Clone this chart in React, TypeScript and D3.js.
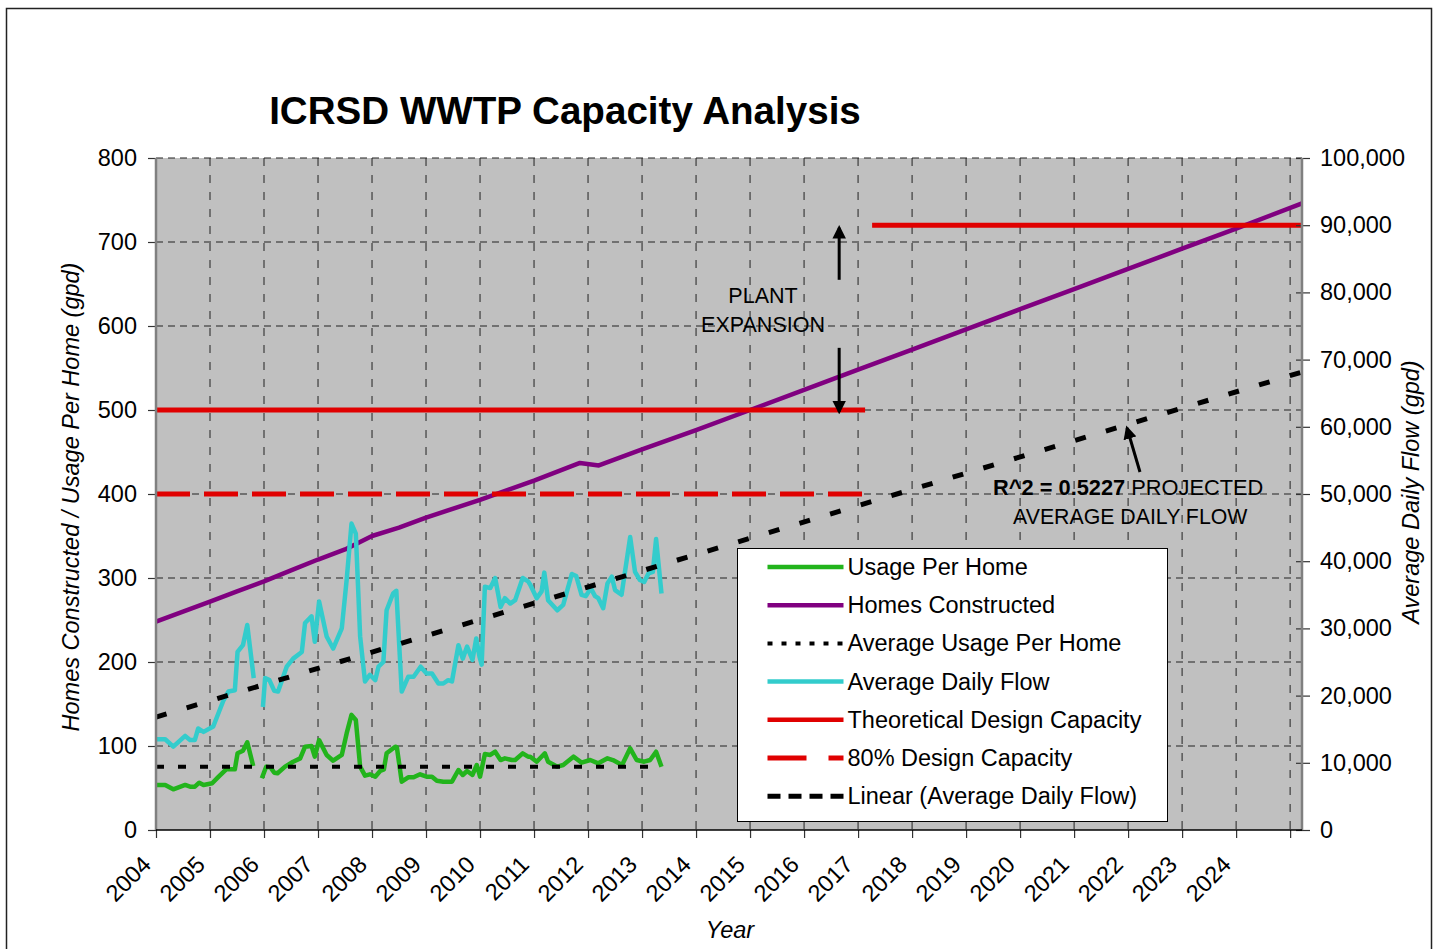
import React, { useEffect, useRef } from "react";
import * as d3 from "d3";

type Pt = [number, number | null];

// ---- axis ticks ----
const yearTicks = [2004, 2005, 2006, 2007, 2008, 2009, 2010, 2011, 2012, 2013, 2014, 2015, 2016, 2017, 2018, 2019, 2020, 2021, 2022, 2023, 2024, 2025];
const yearLabels = ["2004", "2005", "2006", "2007", "2008", "2009", "2010", "2011", "2012", "2013", "2014", "2015", "2016", "2017", "2018", "2019", "2020", "2021", "2022", "2023", "2024", ""];
const leftTicks = [0, 100, 200, 300, 400, 500, 600, 700, 800];
const rightTicks = [0, 10000, 20000, 30000, 40000, 50000, 60000, 70000, 80000, 90000, 100000];

// ---- series (year, value) ----
// Average Daily Flow (gpd, right axis)
const dailyFlow: Pt[] = [
  [2004.01, 13500], [2004.17, 13500], [2004.32, 12400], [2004.54, 14000], [2004.63, 13400],
  [2004.72, 13400], [2004.78, 15100], [2004.88, 14600], [2005.06, 15400], [2005.25, 19300],
  [2005.34, 20600], [2005.46, 20800], [2005.51, 26500], [2005.61, 27500], [2005.69, 30500],
  [2005.81, 22600], [2005.9, null], [2005.98, 18300], [2006.02, 22600], [2006.1, 22300],
  [2006.19, 20700], [2006.26, 20600], [2006.42, 24300], [2006.54, 25500], [2006.7, 26500],
  [2006.76, 30800], [2006.88, 31800], [2006.94, 28000], [2007.02, 34000], [2007.16, 28800],
  [2007.28, 27000], [2007.44, 30000], [2007.53, 37200], [2007.62, 45600], [2007.7, 44100],
  [2007.78, 28800], [2007.87, 22100], [2007.96, 23100], [2008.06, 22300], [2008.12, 24300],
  [2008.21, 25000], [2008.27, 32700], [2008.39, 35200], [2008.45, 35600], [2008.55, 20600],
  [2008.67, 22800], [2008.77, 22800], [2008.9, 24300], [2009.01, 23300], [2009.11, 23300],
  [2009.23, 21800], [2009.32, 21800], [2009.41, 22300], [2009.48, 22100], [2009.6, 27500],
  [2009.68, 25500], [2009.76, 27300], [2009.86, 25300], [2009.93, 28500], [2009.99, 25800],
  [2010.03, 24600], [2010.09, 36200], [2010.19, 36000], [2010.28, 37500], [2010.38, 33200],
  [2010.46, 34500], [2010.56, 33700], [2010.65, 34200], [2010.79, 37500], [2010.89, 37000],
  [2010.93, 36500], [2011.05, 34500], [2011.14, 35500], [2011.19, 38300], [2011.26, 34200],
  [2011.43, 32700], [2011.54, 33500], [2011.7, 38100], [2011.78, 37800], [2011.88, 35000],
  [2011.96, 34800], [2012.05, 36000], [2012.13, 34800], [2012.19, 34500], [2012.28, 33000],
  [2012.36, 36700], [2012.44, 37700], [2012.5, 35700], [2012.62, 35000], [2012.78, 43600],
  [2012.87, 38400], [2012.96, 37200], [2013.04, 36900], [2013.12, 38200], [2013.2, 38400],
  [2013.26, 43300], [2013.36, 35200],
];

// Usage Per Home (gpd, left axis)
const usagePerHome: Pt[] = [
  [2004.01, 53.6], [2004.17, 53.6], [2004.32, 48.4], [2004.54, 53.6], [2004.63, 51.6],
  [2004.72, 51.6], [2004.8, 56.3], [2004.88, 53.6], [2005.04, 55.6], [2005.16, 63.5],
  [2005.3, 72.2], [2005.46, 72.2], [2005.51, 91.3], [2005.61, 94.4], [2005.69, 104.4],
  [2005.8, 76.2], [2005.9, null], [2005.96, 61.5], [2006.04, 75.4], [2006.12, 74.6],
  [2006.19, 68.2], [2006.25, 67.5], [2006.39, 75.4], [2006.54, 81.3], [2006.67, 85.3],
  [2006.76, 99.2], [2006.88, 100], [2006.94, 87.3], [2007.02, 107], [2007.16, 89.3],
  [2007.28, 82.5], [2007.44, 89.3], [2007.53, 115], [2007.62, 137], [2007.7, 131],
  [2007.78, 75.4], [2007.87, 64.7], [2007.96, 66.3], [2008.06, 63.5], [2008.15, 70.2],
  [2008.22, 72.2], [2008.27, 91.3], [2008.43, 99.2], [2008.46, 98.4], [2008.55, 57.5],
  [2008.67, 62.7], [2008.77, 62.7], [2008.89, 66.3], [2009.01, 63.5], [2009.11, 63.5],
  [2009.2, 58.7], [2009.32, 57.5], [2009.48, 57.5], [2009.6, 71.4], [2009.68, 65.5],
  [2009.76, 70.2], [2009.86, 65.5], [2009.94, 77.4], [2010.0, 63.5], [2010.09, 90.5],
  [2010.19, 89.3], [2010.28, 93.2], [2010.38, 83.3], [2010.46, 85.3], [2010.59, 83.3],
  [2010.65, 83.3], [2010.79, 91.3], [2010.89, 87.3], [2010.93, 87.3], [2011.05, 81.3],
  [2011.2, 91.3], [2011.26, 81.3], [2011.43, 75.4], [2011.54, 77.4], [2011.73, 87.3],
  [2011.88, 80.2], [2012.04, 83.3], [2012.19, 79.4], [2012.36, 85.3], [2012.46, 83.3],
  [2012.63, 77.4], [2012.78, 97.2], [2012.9, 83.3], [2013.04, 81.3], [2013.15, 83.3],
  [2013.26, 93.2], [2013.36, 75.4],
];

// Homes Constructed (left axis)
const homesConstructed: Pt[] = [
  [2004, 248], [2004.5, 260], [2005, 272], [2005.5, 284], [2006, 296], [2006.5, 309],
  [2007, 322], [2007.5, 334], [2008, 350], [2008.5, 360], [2009, 372], [2010, 393],
  [2011, 416], [2011.85, 437], [2012.2, 434], [2013, 453], [2014, 476], [2015, 500],
  [2016, 524], [2017, 548], [2018, 572], [2019, 596], [2020, 620], [2021, 644],
  [2022, 668], [2023, 692], [2024, 716], [2025.22, 746],
];

// Average Usage Per Home (left axis)
const avgUsagePerHome: Pt[] = [[2004, 75.4], [2013.36, 75.4]];

// Design capacities (gpd, right axis)
const designCapacity: Pt[] = [[2004, 62500], [2017.13, 62500], [2017.2, null], [2017.26, 90000], [2025.22, 90000]];
const design80: Pt[] = [[2004, 50000], [2017.13, 50000]];

// Linear (Average Daily Flow) trend, gpd
const linearFlow: Pt[] = [[2004, 16800], [2025.22, 68150]];

const legendItems = [
  { label: "Usage Per Home", color: "#22b41c", dash: "", width: 4.5 },
  { label: "Homes Constructed", color: "#800080", dash: "", width: 4.5 },
  { label: "Average Usage Per Home", color: "#000", dash: "5,9", width: 4 },
  { label: "Average Daily Flow", color: "#33cccc", dash: "", width: 4.5 },
  { label: "Theoretical Design Capacity", color: "#e00000", dash: "", width: 4.5 },
  { label: "80% Design Capacity", color: "#e00000", dash: "39,22", width: 5 },
  { label: "Linear (Average Daily Flow)", color: "#000", dash: "13,8", width: 5 },
];

const FONT = "'Liberation Sans', Arial, sans-serif";
const FS = 23.5;
const W = 1437;
const H = 949;
const M = { left: 156, top: 158, right: 1302, bottom: 830 };

const App: React.FC = () => {
  const svgRef = useRef<SVGSVGElement>(null);

  useEffect(() => {
    const svg = d3.select(svgRef.current);
    svg.selectAll("*").remove();

    const x = d3.scaleLinear().domain([2004, 2025.22]).range([M.left, M.right]);
    const yL = d3.scaleLinear().domain([0, 800]).range([M.bottom, M.top]);
    const yR = d3.scaleLinear().domain([0, 100000]).range([M.bottom, M.top]);

    // outer frame
    svg.append("rect")
      .attr("x", 6.5).attr("y", 8.5).attr("width", 1425).attr("height", 970)
      .attr("fill", "#fff").attr("stroke", "#222").attr("stroke-width", 1.5);

    // plot background
    svg.append("rect")
      .attr("x", M.left).attr("y", M.top)
      .attr("width", M.right - M.left).attr("height", M.bottom - M.top)
      .attr("fill", "#c0c0c0");

    // gridlines
    const grid = svg.append("g").attr("stroke", "#222").attr("stroke-width", 1);
    grid.selectAll("line.h").data(leftTicks.slice(1)).join("line")
      .attr("x1", M.left).attr("x2", M.right)
      .attr("y1", (d) => yL(d)).attr("y2", (d) => yL(d))
      .attr("stroke-dasharray", "7,5");
    grid.selectAll("line.v").data(yearTicks.slice(1)).join("line")
      .attr("x1", (d) => x(d)).attr("x2", (d) => x(d))
      .attr("y1", M.top).attr("y2", M.bottom)
      .attr("stroke-dasharray", "8,9");

    const lineL = d3.line<Pt>().defined((d) => d[1] !== null).x((d) => x(d[0])).y((d) => yL(d[1] as number));
    const lineR = d3.line<Pt>().defined((d) => d[1] !== null).x((d) => x(d[0])).y((d) => yR(d[1] as number));

    const draw = (d: string | null, color: string, width: number, dash = "") =>
      svg.append("path").attr("d", d || "").attr("fill", "none")
        .attr("stroke", color).attr("stroke-width", width)
        .attr("stroke-linejoin", "round")
        .attr("stroke-dasharray", dash || null);

    draw(lineL(usagePerHome), "#22b41c", 4.5);
    draw(lineL(homesConstructed), "#800080", 4.5);
    draw(lineL(avgUsagePerHome), "#000", 4, "8,14");
    draw(lineR(dailyFlow), "#33cccc", 4.5);
    draw(lineR(designCapacity), "#e00000", 5);
    draw(lineR(design80), "#e00000", 5, "34,14");
    draw(lineR(linearFlow), "#000", 5, "11,21");

    // axes
    const axL = svg.append("g").attr("transform", `translate(${M.left},0)`)
      .call(d3.axisLeft(yL).tickValues(leftTicks).tickSize(8).tickPadding(11).tickFormat(d3.format("d")));
    const axR = svg.append("g").attr("transform", `translate(${M.right},0)`)
      .call(d3.axisRight(yR).tickValues(rightTicks).tickSize(8).tickPadding(10).tickFormat(d3.format(",")));
    axR.selectAll(".tick line").attr("x1", -6);
    const axB = svg.append("g").attr("transform", `translate(0,${M.bottom})`)
      .call(d3.axisBottom(x).tickValues(yearTicks).tickSize(8).tickFormat((_, i) => yearLabels[i]));
    axB.selectAll(".tick text")
      .attr("x", 0).attr("y", 0).attr("dy", 0)
      .attr("text-anchor", "end")
      .attr("transform", "translate(-4,36) rotate(-45)");

    [axL, axR, axB].forEach((a) => {
      a.select(".domain").remove();
      a.selectAll(".tick line").attr("stroke", "#333").attr("stroke-width", 1.2);
      a.selectAll("text").attr("font-family", FONT).attr("font-size", FS).attr("fill", "#000");
    });

    // axis lines
    svg.append("line").attr("x1", M.left).attr("x2", M.left).attr("y1", M.top).attr("y2", M.bottom)
      .attr("stroke", "#808080").attr("stroke-width", 2.5);
    svg.append("line").attr("x1", M.right).attr("x2", M.right).attr("y1", M.top).attr("y2", M.bottom)
      .attr("stroke", "#808080").attr("stroke-width", 2.5);
    svg.append("line").attr("x1", M.left).attr("x2", M.right).attr("y1", M.bottom).attr("y2", M.bottom)
      .attr("stroke", "#000").attr("stroke-width", 1.5);

    // title and axis titles
    svg.append("text").attr("x", 565).attr("y", 124).attr("text-anchor", "middle")
      .attr("font-family", FONT).attr("font-size", 38.6).attr("font-weight", "bold")
      .text("ICRSD WWTP Capacity Analysis");
    svg.append("text").attr("transform", "translate(79,497) rotate(-90)").attr("text-anchor", "middle")
      .attr("font-family", FONT).attr("font-size", FS).attr("font-style", "italic")
      .text("Homes Constructed / Usage Per Home (gpd)");
    svg.append("text").attr("transform", "translate(1419,492) rotate(-90)").attr("text-anchor", "middle")
      .attr("font-family", FONT).attr("font-size", FS).attr("font-style", "italic")
      .text("Average Daily Flow (gpd)");
    svg.append("text").attr("x", 730).attr("y", 938).attr("text-anchor", "middle")
      .attr("font-family", FONT).attr("font-size", FS).attr("font-style", "italic")
      .text("Year");

    // arrow marker
    const defs = svg.append("defs");
    defs.append("marker").attr("id", "arrowHead").attr("viewBox", "0 0 10 10")
      .attr("refX", 8).attr("refY", 5).attr("markerWidth", 4.5).attr("markerHeight", 4.5)
      .attr("orient", "auto")
      .append("path").attr("d", "M0,0 L10,5 L0,10 Z").attr("fill", "#000");

    const arrow = (x1: number, y1: number, x2: number, y2: number) =>
      svg.append("line").attr("x1", x1).attr("y1", y1).attr("x2", x2).attr("y2", y2)
        .attr("stroke", "#000").attr("stroke-width", 3).attr("marker-end", "url(#arrowHead)");

    // plant expansion annotation
    arrow(x(2016.65), yL(655), x(2016.65), yL(717));
    arrow(x(2016.65), yL(574), x(2016.65), yL(498));
    const ann = svg.append("g").attr("font-family", FONT).attr("font-size", 21.5).attr("text-anchor", "middle");
    ann.append("text").attr("x", x(2015.24)).attr("y", yL(627)).text("PLANT");
    ann.append("text").attr("x", x(2015.24)).attr("y", yL(593)).text("EXPANSION");

    // R^2 annotation
    arrow(x(2022.22), yR(53270), x(2021.98), yR(59820));
    const r2 = svg.append("text").attr("x", x(2019.5)).attr("y", yR(49850))
      .attr("font-family", FONT).attr("font-size", 21.8);
    r2.append("tspan").attr("font-weight", "bold").text("R^2 = 0.5227");
    r2.append("tspan").text(" PROJECTED");
    svg.append("text").attr("x", x(2019.87)).attr("y", yR(45530))
      .attr("font-family", FONT).attr("font-size", 21.3).text("AVERAGE DAILY FLOW");

    // legend
    const lg = svg.append("g").attr("transform", "translate(737.5,548.5)");
    lg.append("rect").attr("width", 430).attr("height", 273)
      .attr("fill", "#fff").attr("stroke", "#000").attr("stroke-width", 1);
    const rows = lg.selectAll("g.row").data(legendItems).join("g")
      .attr("transform", (_, i) => `translate(0,${18.5 + i * 38.2})`);
    rows.append("line").attr("x1", 30).attr("x2", 106).attr("y1", 0).attr("y2", 0)
      .attr("stroke", (d) => d.color).attr("stroke-width", (d) => d.width)
      .attr("stroke-dasharray", (d) => d.dash || null);
    rows.append("text").attr("x", 110).attr("y", 8)
      .attr("font-family", FONT).attr("font-size", FS).text((d) => d.label);
  }, []);

  return (
    <svg ref={svgRef} width={W} height={H} style={{ position: "absolute", left: 0, top: 0 }} />
  );
};

export default App;
